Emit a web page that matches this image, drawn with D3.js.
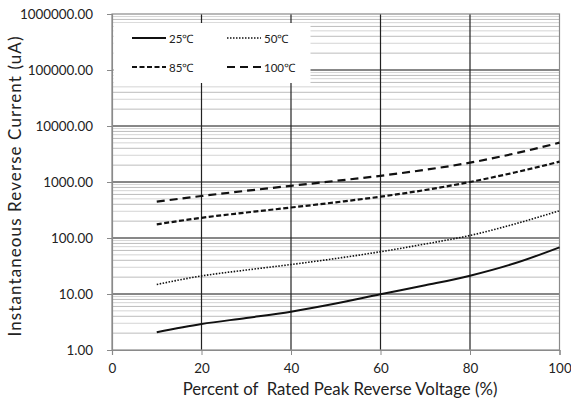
<!DOCTYPE html>
<html><head><meta charset="utf-8">
<script src="https://cdn.jsdelivr.net/npm/d3@7"></script>
<style>body{margin:0;background:#fff}svg{display:block}text{font-family:Lato,"Open Sans",sans-serif;fill:#222}</style>
</head><body><svg id="c" width="571" height="403"></svg>
<script>
const xVals=[10,20,30,40,50,60,70,80,90,100];
const s25=[2.07,2.91,3.73,4.83,6.74,9.88,14.3,21.2,35.3,68.2];
const s50=[14.8,21.0,26.8,33.6,43.0,56.9,78.2,110.9,178,307];
const s85=[175.7,229.5,285,350,434,547,720,1000,1479,2305];
const s100=[445,562,697,855,1046,1291,1651,2213,3228,5035];
const seriesNames=["25℃","50℃","85℃","100℃"];
const xTicks=[0,20,40,60,80,100];
const yTicks=[1,10,100,1000,10000,100000,1000000];
const xTitle="Percent of  Rated Peak Reverse Voltage (%)";
const yTitle="Instantaneous Reverse Current (uA)";

const svg=d3.select("#c");
const L=112,R=559.5,T=14,B=350;
const x=d3.scaleLinear().domain([0,100]).range([L,R]);
const y=d3.scaleLog().domain([1,1000000]).range([B,T]);

const minor=[];
for(let d=1;d<1000000;d*=10)for(let k=2;k<=9;k++)minor.push(d*k);
svg.append("g").selectAll("line").data(minor).join("line")
 .attr("x1",L).attr("x2",R).attr("y1",d=>y(d)).attr("y2",d=>y(d))
 .attr("stroke",(d,i)=>i%2?"#d4d4d4":"#bcbcbc").attr("stroke-width",1);
svg.append("g").selectAll("line").data(yTicks.slice(1,-1)).join("line")
 .attr("x1",L).attr("x2",R).attr("y1",d=>y(d)).attr("y2",d=>y(d))
 .attr("stroke","#111").attr("stroke-width",1);
svg.append("g").selectAll("line").data(xTicks.slice(1,-1)).join("line")
 .attr("x1",d=>x(d)).attr("x2",d=>x(d)).attr("y1",T).attr("y2",B)
 .attr("stroke","#222").attr("stroke-width",1.2);
svg.append("rect").attr("x",L).attr("y",T).attr("width",R-L).attr("height",B-T)
 .attr("fill","none").attr("stroke","#8a8a8a").attr("stroke-width",1.2);

const yAxis=d3.axisLeft(y).tickValues(yTicks).tickSize(5).tickPadding(14).tickFormat(d=>d3.format(".2f")(d));
const gy=svg.append("g").attr("transform",`translate(${L},0)`).call(yAxis);
const xAxis=d3.axisBottom(x).tickValues(xTicks).tickSize(5).tickPadding(8);
const gx=svg.append("g").attr("transform",`translate(0,${B})`).call(xAxis);
[gx,gy].forEach(g=>{g.select(".domain").attr("stroke","#8a8a8a").attr("stroke-width",1.2);
 g.selectAll(".tick line").attr("stroke","#8a8a8a");
 g.selectAll(".tick text").style("font-family","Lato,sans-serif").style("font-size","13.4px").attr("fill","#222");});

const styles=[
 {data:s25,w:2,dash:null},
 {data:s50,w:1.6,dash:"1.5,1.5"},
 {data:s85,w:2.2,dash:"5,2.5"},
 {data:s100,w:2.2,dash:"8,5"}];
const line=d3.line().x((d,i)=>x(xVals[i])).y(d=>y(d)).curve(d3.curveMonotoneX);
styles.forEach(s=>{svg.append("path").datum(s.data).attr("d",line)
 .attr("fill","none").attr("stroke","#111").attr("stroke-width",s.w)
 .attr("stroke-dasharray",s.dash);});

svg.append("rect").attr("x",113.5).attr("y",23).attr("width",197).attr("height",60).attr("fill","#fff");
const legPos=[[132,38],[227,38],[132,67],[227,67]];
styles.forEach((s,i)=>{const [lx,ly]=legPos[i];
 svg.append("line").attr("x1",lx).attr("x2",lx+34).attr("y1",ly).attr("y2",ly)
  .attr("stroke","#111").attr("stroke-width",s.w).attr("stroke-dasharray",s.dash);
 svg.append("text").attr("x",lx+37).attr("y",ly+4.5).style("font-size","11.5px").text(seriesNames[i]);});

svg.append("text").attr("x",340).attr("y",395).attr("text-anchor","middle")
 .style("font-size","16.8px").style("white-space","pre").text(xTitle);
svg.append("text").attr("transform",`translate(21,186) rotate(-90)`).attr("text-anchor","middle")
 .style("font-size","17px").style("letter-spacing","1.1px").text(yTitle);
</script></body></html>
